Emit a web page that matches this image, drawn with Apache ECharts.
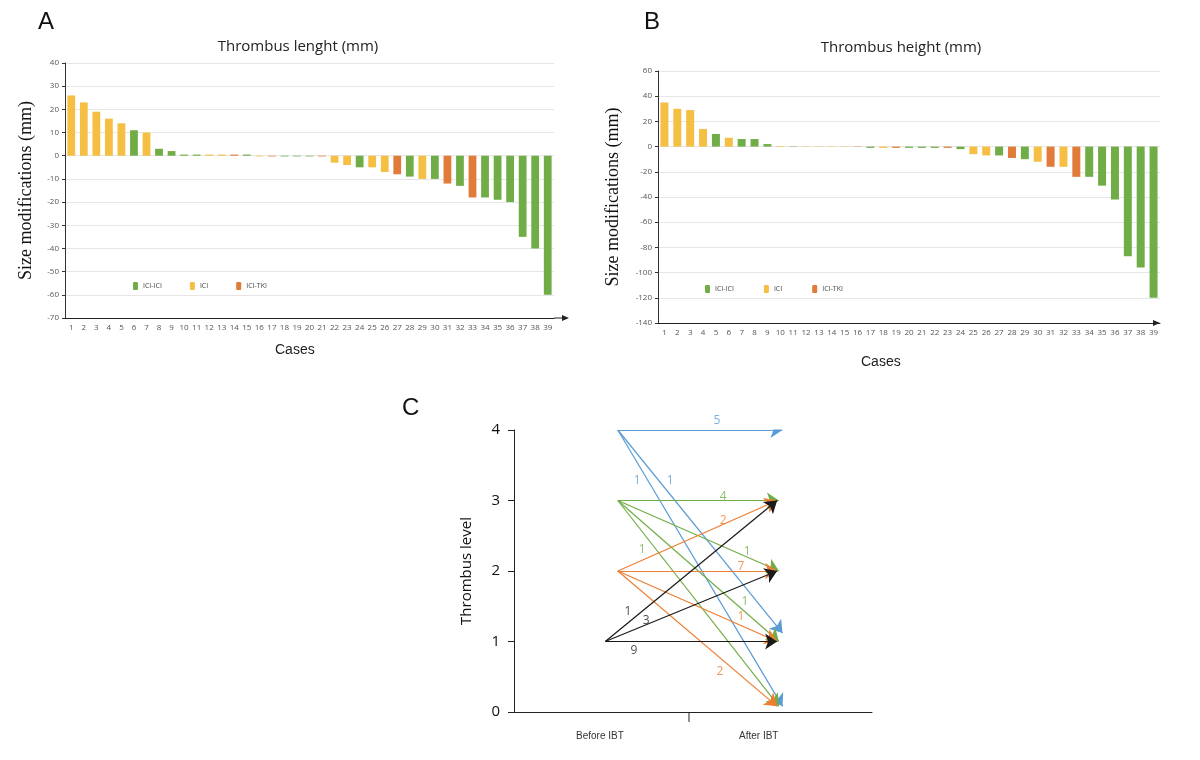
<!DOCTYPE html>
<html>
<head>
<meta charset="utf-8">
<script src="https://cdn.jsdelivr.net/npm/echarts@6/dist/echarts.min.js"></script>
<style>html,body{margin:0;background:#fff}#main{width:1200px;height:760px}</style>
</head>
<body>
<div id="main"></div>
<script>
// cases 1..39
var cases = []
for (var i = 1; i <= 39; i++) cases.push(String(i))

// panel A: thrombus length change (mm) and therapy group per case
var lengthValues = [26, 23, 19, 16, 14, 11, 10, 3, 2, 0.5, 0.5, 0.5, 0.5, 0.5, 0.5, -0.3, -0.3, -0.3, -0.3, -0.3, -0.3,
    -3, -4, -5, -5, -7, -8, -9, -10, -10, -12, -13, -18, -18, -19, -20, -35, -40, -60]
var lengthGroups = ['I', 'I', 'I', 'I', 'I', 'G', 'I', 'G', 'G', 'G', 'G', 'I', 'I', 'T', 'G', 'I', 'T', 'G', 'G', 'G', 'T',
    'I', 'I', 'G', 'I', 'I', 'T', 'G', 'I', 'G', 'T', 'G', 'T', 'G', 'G', 'G', 'G', 'G', 'G']

// panel B: thrombus height change (mm)
var heightValues = [35, 30, 29, 14, 10, 7, 6, 6, 2, 0.5, 0.3, 0.3, 0.3, 0.3, 0.3, 0.3, -1, -1, -1, -1, -1, -1, -1, -2,
    -6, -7, -7, -9, -10, -12, -16, -16, -24, -24, -31, -42, -87, -96, -120]
var heightGroups = ['I', 'I', 'I', 'I', 'G', 'I', 'G', 'G', 'G', 'I', 'G', 'I', 'I', 'I', 'I', 'T', 'G', 'I', 'T', 'G', 'G', 'G', 'T', 'G',
    'I', 'I', 'G', 'T', 'G', 'I', 'T', 'I', 'T', 'G', 'G', 'G', 'G', 'G', 'G']

var groupNames = { G: 'ICI-ICI', I: 'ICI', T: 'ICI-TKI' }
var groupColors = { G: '#70ad47', I: '#f4bf42', T: '#e07b39' }

// panel C: level before -> level after, number of cases, colour by starting level
var transFrom = [4, 4, 4, 3, 3, 3, 3, 2, 2, 2, 2, 1, 1, 1]
var transTo = [4, 1, 0, 3, 2, 1, 0, 3, 2, 1, 0, 3, 2, 1]
var transCount = [5, 1, 1, 4, 1, 1, 1, 2, 7, 1, 2, 1, 3, 9]
var levelColors = { 4: '#5b9bd5', 3: '#70ad47', 2: '#ed7d31', 1: '#1a1a1a' }
// where each count is written, in data units of panel C
var countLabelPos = [[5.67, 4.13], [3.44, 3.28], [4.36, 3.28], [5.84, 3.05], [3.58, 2.31], [6.51, 2.27], [6.45, 1.57],
    [5.84, 2.72], [6.34, 2.06], [6.34, 1.36], [5.75, 0.57], [3.18, 1.42], [3.69, 1.29], [3.35, 0.87]]
var countLabelText = ['5', '1', '1', '4', '1', '1', '1', '2', '7', '1', '2', '1', '3', '9']
var countLabelLevel = [4, 4, 4, 3, 3, 3, 3, 2, 2, 2, 2, 1, 1, 1]

function groupSeries(values, groups, axis) {
    return ['G', 'I', 'T'].map(function (g) {
        return {
            name: groupNames[g],
            type: 'bar',
            stack: 'p' + axis,
            xAxisIndex: axis,
            yAxisIndex: axis,
            barWidth: '62%',
            itemStyle: { color: groupColors[g] },
            data: values.map(function (v, k) { return groups[k] === g ? v : '-' })
        }
    })
}

function barYAxis(min, max, interval, idx) {
    return {
        type: 'value', gridIndex: idx, min: min, max: max, interval: interval,
        name: 'Size modifications (mm)', nameLocation: 'middle', nameGap: idx ? 36 : 30,
        nameTextStyle: { fontFamily: 'Liberation Serif', fontSize: 18, color: '#111' },
        axisLine: { show: true, lineStyle: { color: '#333' } },
        axisTick: { show: true, length: 3 },
        axisLabel: { fontSize: 8, color: '#555', margin: 6 },
        splitLine: { lineStyle: { color: '#e6e6e6' } }
    }
}

function barXAxis(idx) {
    return {
        type: 'category', gridIndex: idx, data: cases,
        axisLine: { onZero: false, lineStyle: { color: '#222' } },
        axisTick: { show: false },
        axisLabel: { interval: 0, fontSize: 8, color: '#555', margin: 6 }
    }
}

var endX = { 4: 7.5, 3: 7.4, 2: 7.35, 1: 7.35 }
var lineData = transFrom.map(function (f, k) {
    var t = transTo[k]
    var x0 = f === 1 ? 2.55 : 2.9
    var y1 = t === 0 ? 0.08 : (t === 1 && f === 4 ? 1.12 : t)
    return { coords: [[x0, f], [endX[f], y1]], lineStyle: { color: levelColors[f] } }
})

var labelData = countLabelPos.map(function (p, k) {
    return { value: p, name: countLabelText[k], label: { color: levelColors[countLabelLevel[k]] } }
})

var option = {
    backgroundColor: '#fff',
    animation: false,
    textStyle: { fontFamily: 'Open Sans' },
    grid: [
        { left: 65, right: 1200 - 554, top: 63, bottom: 760 - 318 },
        { left: 658, right: 1200 - 1160, top: 71, bottom: 760 - 323 },
        { left: 514, right: 1200 - 872, top: 430, bottom: 760 - 712 }
    ],
    title: [
        { text: 'Thrombus lenght (mm)', left: 293, top: 34, textAlign: 'center', textStyle: { fontSize: 15, fontWeight: 'normal', color: '#222' } },
        { text: 'Thrombus height (mm)', left: 896, top: 35, textAlign: 'center', textStyle: { fontSize: 15, fontWeight: 'normal', color: '#222' } }
    ],
    legend: [
        {
            data: ['ICI-ICI', 'ICI', 'ICI-TKI'], left: 128, top: 277, itemWidth: 5, itemHeight: 8, itemGap: 28,
            textStyle: { fontSize: 7, color: '#444' }
        },
        {
            data: ['ICI-ICI', 'ICI', 'ICI-TKI'], left: 700, top: 280, itemWidth: 5, itemHeight: 8, itemGap: 30,
            textStyle: { fontSize: 7, color: '#444' }
        }
    ],
    xAxis: [
        barXAxis(0),
        barXAxis(1),
        {
            type: 'value', gridIndex: 2, min: 0, max: 10,
            axisLine: { onZero: false, lineStyle: { color: '#222' } },
            axisTick: { show: false }, axisLabel: { show: false }, splitLine: { show: false }
        }
    ],
    yAxis: [
        barYAxis(-70, 40, 10, 0),
        barYAxis(-140, 60, 20, 1),
        {
            type: 'value', gridIndex: 2, min: 0, max: 4, interval: 1,
            name: 'Thrombus level', nameLocation: 'middle', nameGap: 40,
            nameTextStyle: { fontSize: 15, color: '#111' },
            axisLine: { show: true, lineStyle: { color: '#222' } },
            axisTick: { show: true, length: 6, inside: false },
            axisLabel: { fontSize: 15, color: '#111', margin: 14 },
            splitLine: { show: false }
        }
    ],
    series: groupSeries(lengthValues, lengthGroups, 0).concat(groupSeries(heightValues, heightGroups, 1)).concat([
        {
            type: 'lines', coordinateSystem: 'cartesian2d', xAxisIndex: 2, yAxisIndex: 2,
            symbol: ['none', 'arrow'], symbolSize: 12,
            lineStyle: { width: 1.2, opacity: 1 },
            data: lineData
        },
        {
            type: 'scatter', xAxisIndex: 2, yAxisIndex: 2, symbolSize: 0, clip: false,
            label: { show: true, position: 'inside', formatter: '{b}', fontSize: 12 },
            data: labelData
        }
    ]),
    graphic: [
        { type: 'text', left: 38, top: 10, style: { text: 'A', fontSize: 24, fill: '#111' } },
        { type: 'text', left: 644, top: 10, style: { text: 'B', fontSize: 24, fill: '#111' } },
        { type: 'text', left: 402, top: 396, style: { text: 'C', fontSize: 24, fill: '#111' } },
        { type: 'text', left: 275, top: 343, style: { text: 'Cases', fontSize: 14, fill: '#222' } },
        { type: 'text', left: 861, top: 355, style: { text: 'Cases', fontSize: 14, fill: '#222' } },
        { type: 'line', shape: { x1: 554, y1: 318, x2: 564, y2: 318 }, style: { stroke: '#222' } },
        { type: 'polygon', shape: { points: [[569, 318], [562, 315], [562, 321]] }, style: { fill: '#222' } },
        { type: 'polygon', shape: { points: [[1160, 323], [1153, 320], [1153, 326]] }, style: { fill: '#222' } },
        { type: 'line', shape: { x1: 689, y1: 712, x2: 689, y2: 722 }, style: { stroke: '#222' } },
        { type: 'text', left: 576, top: 731, style: { text: 'Before IBT', fontSize: 10, fill: '#333' } },
        { type: 'text', left: 739, top: 731, style: { text: 'After IBT', fontSize: 10, fill: '#333' } }
    ]
}

echarts.init(document.getElementById('main')).setOption(option)
</script>
</body>
</html>
